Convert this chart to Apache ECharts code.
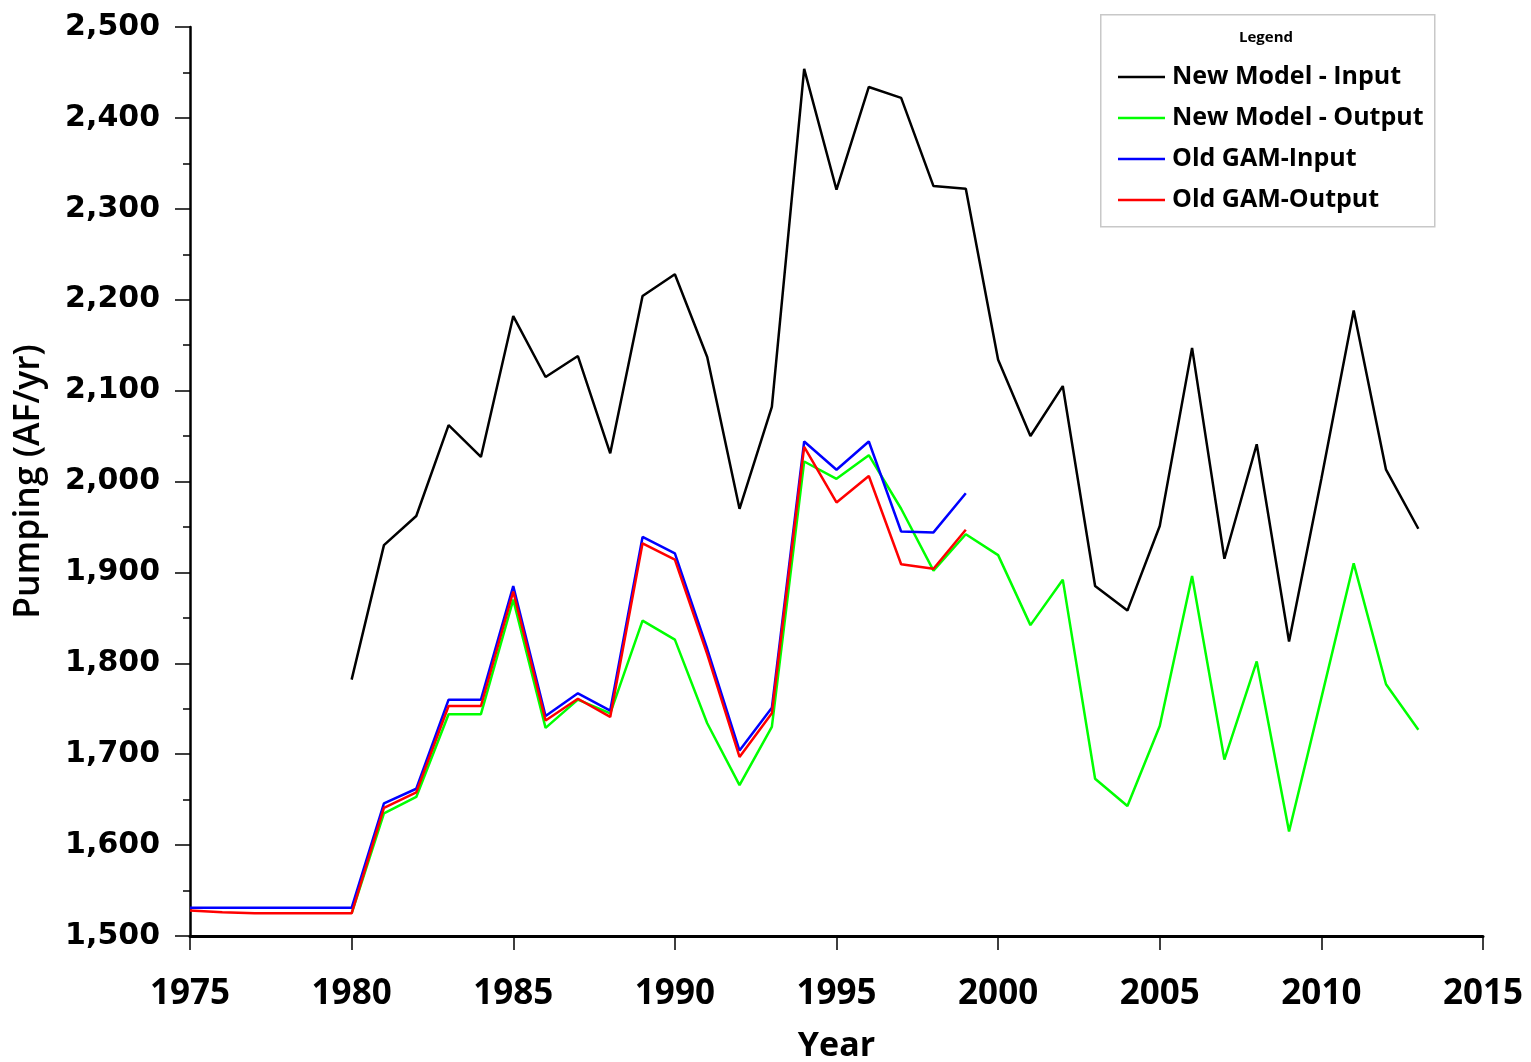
<!DOCTYPE html>
<html>
<head>
<meta charset="utf-8">
<script src="https://cdn.jsdelivr.net/npm/echarts@6/dist/echarts.min.js"></script>
<style>html,body{margin:0;padding:0;background:#fff;}#c{width:1531px;height:1062px;}</style>
</head>
<body>
<div id="c"></div>
<script>
// Data
const seriesNames = ['New Model - Input', 'New Model - Output', 'Old GAM-Input', 'Old GAM-Output'];
const newModelYears = [1980,1981,1982,1983,1984,1985,1986,1987,1988,1989,1990,1991,1992,1993,1994,1995,1996,1997,1998,1999,2000,2001,2002,2003,2004,2005,2006,2007,2008,2009,2010,2011,2012,2013];
const newModelInput = [1782,1930,1962,2062,2027,2182,2115,2138,2031,2204,2228,2137,1970,2082,2454,2321,2434,2422,2325,2322,2134,2050,2105,1885,1858,1951,2147,1915,2041,1824,2003,2188,2013,1948];
const newModelOutput = [1525,1635,1653,1744,1744,1870,1729,1760,1745,1847,1826,1734,1666,1730,2022,2003,2029,1970,1902,1942,1919,1842,1892,1673,1643,1731,1896,1694,1802,1615,1762,1910,1777,1727];
const oldGamYears = [1975,1976,1977,1978,1979,1980,1981,1982,1983,1984,1985,1986,1987,1988,1989,1990,1991,1992,1993,1994,1995,1996,1997,1998,1999];
const oldGamInput = [1531,1531,1531,1531,1531,1531,1646,1662,1760,1760,1885,1742,1767,1748,1939,1921,1816,1704,1751,2044,2013,2044,1945,1944,1987];
const oldGamOutput = [1528,1526,1525,1525,1525,1525,1641,1658,1753,1753,1879,1737,1761,1741,1932,1914,1810,1697,1745,2038,1977,2006,1909,1904,1947];
const xTicks = [1975,1980,1985,1990,1995,2000,2005,2010,2015];
const yTicks = [1500,1600,1700,1800,1900,2000,2100,2200,2300,2400,2500];

const colors = ['#000000', '#00ff00', '#0000ff', '#ff0000'];
const zip = (xs, ys) => xs.map((x, i) => [x, ys[i]]);

const chart = echarts.init(document.getElementById('c'), null, {renderer: 'canvas'});
const fontMain = '"Open Sans", "Noto Sans", sans-serif';

function mkSeries(name, xs, ys, color) {
  return {
    name: name, type: 'line', data: zip(xs, ys),
    symbol: 'none', showSymbol: false,
    lineStyle: {color: color, width: 2.5},
    itemStyle: {color: color},
    animation: false
  };
}

chart.setOption({
  backgroundColor: '#ffffff',
  animation: false,
  grid: {left: 190, right: 48, top: 27, bottom: 126, containLabel: false, outerBoundsMode: 'none'},
  xAxis: {
    type: 'value', min: xTicks[0], max: xTicks[xTicks.length - 1], interval: 5,
    name: 'Year', nameLocation: 'middle', nameGap: 93,
    nameTextStyle: {fontFamily: fontMain, fontWeight: 'bold', fontSize: 34, color: '#000'},
    axisLine: {show: true, onZero: false, lineStyle: {color: '#000', width: 3}},
    axisTick: {show: true, length: 14, lineStyle: {color: '#000', width: 1.5}},
    axisLabel: {margin: 41, fontFamily: fontMain, fontWeight: 'bold', fontSize: 35, color: '#000',
      formatter: v => String(v)},
    splitLine: {show: false}
  },
  yAxis: {
    type: 'value', min: yTicks[0], max: yTicks[yTicks.length - 1], interval: 100,
    name: 'Pumping (AF/yr)', nameLocation: 'middle', nameGap: 143, nameRotate: 90,
    nameTextStyle: {fontFamily: fontMain, fontWeight: 600, fontSize: 35.5, color: '#000'},
    axisLine: {show: true, onZero: false, lineStyle: {color: '#000', width: 2.5}},
    axisTick: {show: true, length: 15, lineStyle: {color: '#000', width: 1.5}},
    minorTick: {show: true, splitNumber: 2, length: 7, lineStyle: {color: '#000', width: 1.5}},
    axisLabel: {margin: 30, fontFamily: '"DejaVu Sans", sans-serif', fontWeight: 'bold', fontSize: 30, color: '#000',
      formatter: v => v.toLocaleString('en-US')},
    splitLine: {show: false}
  },
  legend: {
    show: true, orient: 'vertical', left: 1113, top: 59,
    data: seriesNames,
    icon: 'rect', itemWidth: 47, itemHeight: 2.5, itemGap: 15,
    textStyle: {fontFamily: fontMain, fontWeight: 'bold', fontSize: 25, color: '#000', lineHeight: 26, padding: [0, 0, 0, 2]},
    selectedMode: false
  },
  graphic: [
    {type: 'rect', left: 1100, top: 14, z: -1,
      shape: {width: 334, height: 212}, style: {fill: '#fff', stroke: '#c8c8c8', lineWidth: 1.5}},
    {type: 'text', left: 1239, top: 30,
      style: {text: 'Legend', font: 'bold 15px "Open Sans", sans-serif', fill: '#000'}}
  ],
  series: [
    mkSeries(seriesNames[0], newModelYears, newModelInput, colors[0]),
    mkSeries(seriesNames[1], newModelYears, newModelOutput, colors[1]),
    mkSeries(seriesNames[2], oldGamYears, oldGamInput, colors[2]),
    mkSeries(seriesNames[3], oldGamYears, oldGamOutput, colors[3])
  ]
});
</script>
</body>
</html>
